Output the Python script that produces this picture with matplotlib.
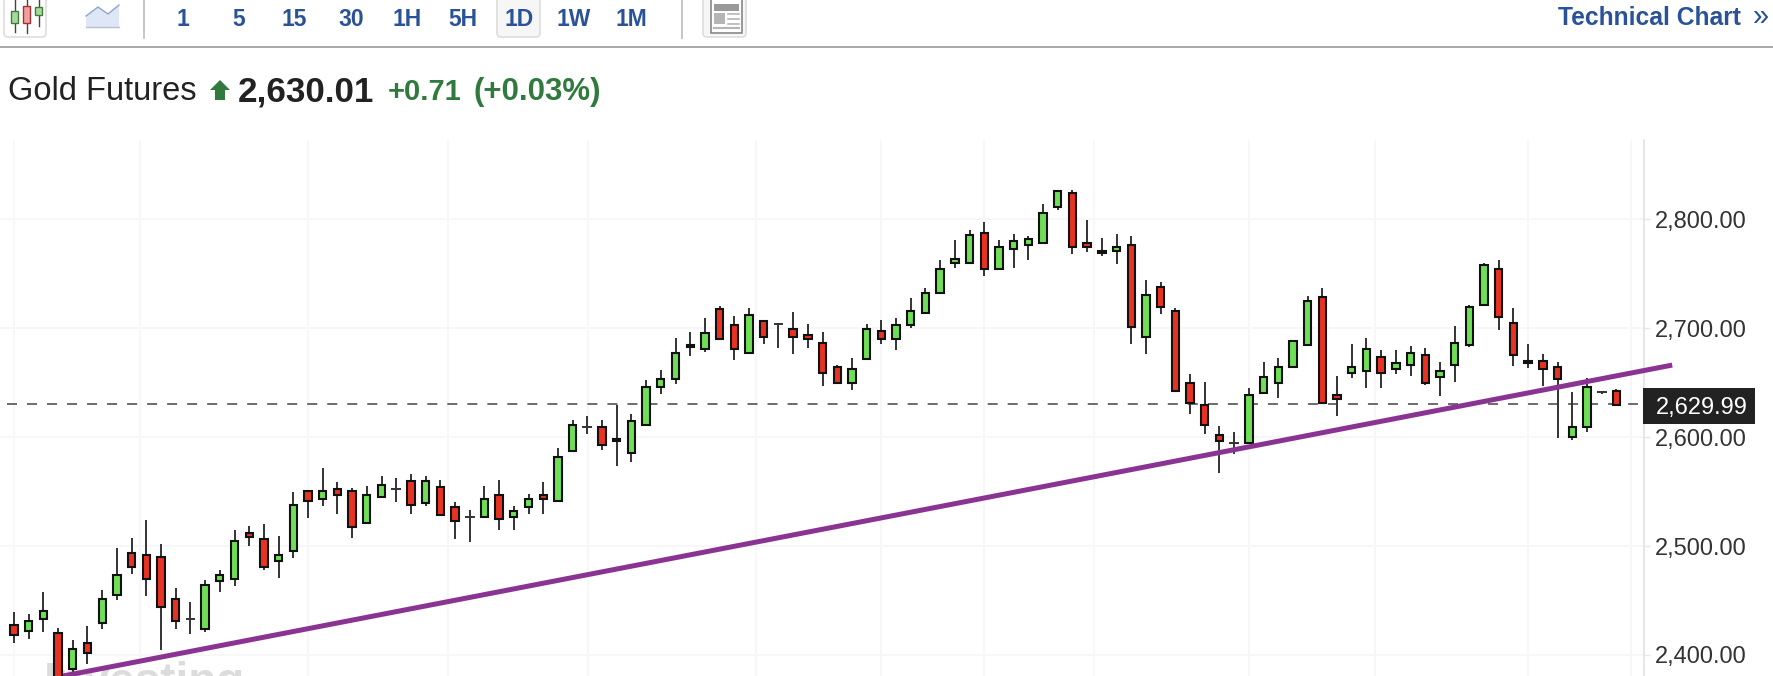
#!/usr/bin/env python3

import matplotlib
matplotlib.use('Agg')
import matplotlib.pyplot as plt
from matplotlib.patches import FancyBboxPatch, Polygon, Rectangle

W, H = 1774, 676
FONT = 'Liberation Sans'

GREEN = '#6fdf55'
RED = '#e83323'
BLUE = '#2a5298'
TEXT_GREEN = '#2f7a3c'

opens = [
    2427.5, 2422.3, 2433.0, 2419.9, 2387.2, 2411.0, 2429.4, 2454.7, 2493.9, 2492.1,
    2489.9, 2451.4, 2433.0, 2423.9, 2467.6, 2469.7, 2512.2, 2506.7, 2485.9, 2495.4,
    2550.5, 2543.1, 2552.6, 2550.8, 2520.8, 2545.0, 2552.6, 2559.9, 2539.5, 2554.4,
    2536.0, 2526.6, 2526.6, 2546.8, 2526.6, 2535.7, 2546.8, 2541.2, 2586.8, 2609.4,
    2609.4, 2598.4, 2585.0, 2610.7, 2645.5, 2652.9, 2684.4, 2680.4, 2717.7, 2703.0,
    2676.7, 2706.7, 2703.3, 2699.4, 2693.8, 2686.5, 2664.5, 2649.2, 2671.2, 2697.5,
    2689.6, 2702.5, 2713.5, 2731.9, 2759.4, 2759.4, 2787.5, 2753.9, 2772.2, 2775.9,
    2777.7, 2810.7, 2824.2, 2778.3, 2771.0, 2770.4, 2776.5, 2691.8, 2738.0, 2716.0,
    2649.9, 2629.7, 2602.2, 2594.5, 2594.2, 2640.1, 2649.6, 2664.0, 2684.1, 2728.8,
    2638.8, 2658.4, 2660.2, 2673.7, 2662.0, 2666.3, 2675.5, 2655.0, 2665.7, 2684.1,
    2720.8, 2754.4, 2704.9, 2670.0, 2670.0, 2664.5, 2599.7, 2609.1, 2640.9, 2642.5,
]
closes = [
    2418.4, 2431.2, 2440.7, 2377.0, 2405.8, 2401.8, 2451.7, 2473.7, 2480.7, 2469.7,
    2444.0, 2431.2, 2433.0, 2464.5, 2473.7, 2504.9, 2508.0, 2480.7, 2492.1, 2537.9,
    2541.3, 2550.8, 2546.5, 2517.4, 2547.1, 2556.3, 2552.6, 2537.6, 2559.9, 2528.4,
    2522.9, 2526.6, 2543.4, 2524.7, 2532.4, 2543.4, 2543.1, 2581.9, 2611.3, 2609.4,
    2592.6, 2596.0, 2615.0, 2646.1, 2653.5, 2677.3, 2682.5, 2695.7, 2689.6, 2680.4,
    2712.2, 2691.4, 2703.3, 2691.4, 2689.6, 2658.4, 2649.2, 2662.7, 2699.4, 2689.6,
    2703.1, 2716.0, 2732.5, 2754.5, 2763.7, 2785.7, 2753.9, 2774.7, 2780.2, 2782.0,
    2805.9, 2826.0, 2774.1, 2774.1, 2769.2, 2774.7, 2700.7, 2730.6, 2719.0, 2642.2,
    2630.9, 2610.8, 2596.1, 2594.5, 2638.9, 2655.4, 2664.6, 2688.4, 2725.1, 2630.9,
    2634.5, 2664.5, 2681.0, 2658.4, 2668.2, 2677.3, 2649.2, 2660.8, 2686.5, 2719.5,
    2758.1, 2709.8, 2674.9, 2668.2, 2662.4, 2653.2, 2609.4, 2646.1, 2640.9, 2629.3,
]
highs = [
    2439.2, 2437.3, 2457.5, 2424.5, 2413.5, 2426.3, 2459.3, 2497.9, 2507.0, 2523.6,
    2501.5, 2461.2, 2448.3, 2468.5, 2477.7, 2514.4, 2518.0, 2519.9, 2508.9, 2549.2,
    2550.5, 2571.3, 2558.4, 2552.9, 2554.7, 2563.9, 2562.1, 2565.8, 2563.9, 2560.3,
    2540.0, 2532.7, 2554.7, 2560.2, 2536.4, 2547.4, 2558.4, 2589.6, 2615.3, 2618.9,
    2615.3, 2629.3, 2620.8, 2652.0, 2661.1, 2690.5, 2696.0, 2708.8, 2719.8, 2710.7,
    2718.0, 2706.7, 2704.9, 2714.3, 2703.3, 2696.0, 2666.3, 2672.1, 2703.3, 2707.0,
    2708.9, 2727.3, 2736.4, 2762.1, 2780.5, 2789.6, 2797.0, 2780.5, 2786.0, 2784.1,
    2813.5, 2826.0, 2826.3, 2798.8, 2782.3, 2786.0, 2784.1, 2743.8, 2741.9, 2718.1,
    2657.5, 2650.2, 2609.8, 2604.3, 2644.7, 2668.5, 2672.2, 2688.4, 2729.1, 2736.4,
    2655.6, 2685.0, 2690.5, 2679.5, 2679.5, 2683.1, 2681.3, 2668.5, 2701.5, 2721.4,
    2759.9, 2762.0, 2718.0, 2685.0, 2675.8, 2668.5, 2640.9, 2653.8, 2642.5, 2644.3,
]
lows = [
    2410.7, 2414.4, 2421.4, 2370.0, 2381.7, 2392.1, 2423.6, 2450.8, 2474.6, 2454.4,
    2404.9, 2423.6, 2419.6, 2421.4, 2458.1, 2463.6, 2500.3, 2478.3, 2471.0, 2489.3,
    2526.0, 2537.0, 2529.7, 2507.7, 2520.8, 2544.7, 2540.7, 2529.7, 2537.0, 2528.4,
    2506.1, 2503.9, 2526.3, 2514.9, 2514.9, 2529.6, 2529.6, 2541.2, 2586.8, 2603.0,
    2588.3, 2573.7, 2577.3, 2610.7, 2639.7, 2648.9, 2674.6, 2678.3, 2689.6, 2670.9,
    2676.7, 2685.6, 2681.9, 2676.4, 2681.9, 2647.1, 2649.2, 2643.4, 2671.2, 2685.6,
    2680.2, 2700.4, 2713.5, 2731.9, 2755.4, 2759.4, 2748.1, 2753.9, 2755.4, 2762.7,
    2777.7, 2808.6, 2768.2, 2770.1, 2766.4, 2759.1, 2685.7, 2676.5, 2713.2, 2642.2,
    2621.5, 2603.1, 2566.6, 2584.8, 2594.2, 2640.1, 2636.1, 2664.0, 2684.1, 2630.9,
    2619.5, 2654.4, 2645.2, 2645.2, 2658.1, 2656.2, 2647.4, 2637.9, 2650.7, 2682.2,
    2720.8, 2698.4, 2665.4, 2663.6, 2647.1, 2599.4, 2597.5, 2604.9, 2639.4, 2629.3,
]

last_price = 2629.99
y_ticks = [2400, 2500, 2600, 2700, 2800]
date_grid = [0, 8.57, 20, 29.5, 39.05, 50.5, 59, 66, 73.5, 84, 92.55, 103, 110]
trend_x = [3.33, 112.8]
trend_y = [2380.7, 2666.0]
intervals = ['1', '5', '15', '30', '1H', '5H', '1D', '1W', '1M']
interval_x = [183, 239, 294, 351, 407, 463, 519, 574, 631]

fig = plt.figure(figsize=(W / 100, H / 100), dpi=100, facecolor='white')

# main chart, x is candle index and y is price
ax = fig.add_axes([0, 0, 1644 / W, (H - 140) / H])
ax.set_xlim(-0.952, 110.88)
ax.set_ylim(2380.73, 2872.5)

ax.text(2.0, 2363, 'Investing', fontsize=33, fontweight='bold', family=FONT,
        color='#dcdcdc', zorder=1, clip_on=True)

ax.set_xticks(date_grid)
ax.set_yticks(y_ticks)
ax.set_xticklabels([])
ax.set_yticklabels([f'{v:,.2f}' for v in y_ticks], fontsize=17, family=FONT, color='#333333')
ax.yaxis.tick_right()
ax.tick_params(axis='x', length=0)
ax.tick_params(axis='y', length=4.3, width=1, color='#e6e6ee', pad=3.5)
ax.grid(True, color='#f7f7f9', linewidth=1.3, zorder=0)
ax.set_axisbelow(True)
for name in ['top', 'left', 'bottom']:
    ax.spines[name].set_visible(False)
ax.spines['right'].set_color('#e2e2ea')
ax.spines['right'].set_linewidth(1.2)

ax.plot([-0.48, 110.5], [last_price, last_price], color='#444444', linewidth=1.1,
        dashes=(6.55, 6.55), zorder=2)

xs = list(range(len(opens)))
ax.vlines(xs, lows, highs, color='#333333', linewidth=1.4, zorder=3)
for i in xs:
    o, c = opens[i], closes[i]
    if o == c:
        ax.hlines(o, i - 0.33, i + 0.33, color='#333333', linewidth=1.4, zorder=3)
        continue
    ax.bar(i, abs(c - o), bottom=min(o, c), width=0.5, color=GREEN if c > o else RED,
           edgecolor='#111111', linewidth=1.5, zorder=4)

ax.plot(trend_x, trend_y, color='#8b3393', linewidth=3.6, solid_capstyle='butt',
        clip_on=False, zorder=5)

# page furniture around the chart, in pixels
ui = fig.add_axes([0, 0, 1, 1])
ui.set_xlim(0, W)
ui.set_ylim(H, 0)
ui.axis('off')
ui.patch.set_alpha(0)

ui.add_patch(Rectangle((0, 46), W, 2, color='#aaaaaa', linewidth=0))
for x in [144, 682]:
    ui.plot([x, x], [0, 38], color='#bbbbbb', linewidth=1.2)

# toolbar buttons
for x0, x1, fc in [(4, 46, 'white'), (497, 540, '#f6f6f6'), (703, 746, '#f6f6f6')]:
    ui.add_patch(FancyBboxPatch((x0, -10), x1 - x0, 47, boxstyle='round,pad=0,rounding_size=4',
                                fc=fc, ec='#dddddd', linewidth=1.2))

# candle icon
for x, low, top, bot, fc, ec in [(15, 32, 11, 23, '#a8d8a0', '#3f7f35'),
                                 (27, 33, 6, 23, '#f0a0a0', '#a83030'),
                                 (39, 26, 7, 15, '#a8d8a0', '#3f7f35')]:
    ui.plot([x, x], [0, low], color='#444444', linewidth=1.0)
    ui.add_patch(Rectangle((x - 3.5, top), 7, bot - top, fc=fc, ec=ec, linewidth=1.0, zorder=3))

# line icon
ui.add_patch(Polygon([(86, 16), (98, 7), (108, 14), (119, 5), (119, 27), (86, 27)],
                     fc='#dfe6f5', ec='none'))
ui.plot([86, 98, 108, 119], [16, 7, 14, 5], color='#8fa6cc', linewidth=1.0)
ui.plot([86, 119], [27, 27], color='#b8c0d0', linewidth=1.0)

# news icon
ui.add_patch(Rectangle((711, -2), 31, 35, fc='white', ec='#888888', linewidth=1.2))
ui.add_patch(Rectangle((714, 4), 25, 7, fc='#999999', ec='none'))
ui.add_patch(Rectangle((714, 13), 11, 11, fc='#b5b5b5', ec='none'))
for y in [14, 19, 24]:
    ui.plot([728, 739], [y, y], color='#b5b5b5', linewidth=1.2)
ui.plot([714, 739], [28, 28], color='#b5b5b5', linewidth=1.5)

for label, x in zip(intervals, interval_x):
    ui.text(x, 19, label, ha='center', va='center', fontsize=16.5, family=FONT,
            fontweight='bold', color=BLUE)

ui.text(1558, 18, 'Technical Chart', ha='left', va='center', fontsize=17.7, family=FONT,
        fontweight='bold', color=BLUE)
ui.text(1761, 17, '»', ha='center', va='center', fontsize=21, family=FONT, color=BLUE)

# quote line
ui.text(8, 92, 'Gold Futures', ha='left', va='center', fontsize=23.5, family=FONT, color='#222222')
ui.add_patch(Polygon([(220, 80), (230, 90), (225, 90), (225, 100), (215, 100), (215, 90), (210, 90)],
                     fc=TEXT_GREEN, ec='none'))
ui.text(238, 92, '2,630.01', ha='left', va='center', fontsize=25.2, family=FONT,
        fontweight='bold', color='#222222')
ui.text(388, 92, '+0.71', ha='left', va='center', fontsize=21, family=FONT,
        fontweight='bold', color=TEXT_GREEN)
ui.text(474, 92, '(+0.03%)', ha='left', va='center', fontsize=22.5, family=FONT,
        fontweight='bold', color=TEXT_GREEN)

# last price tag
ui.add_patch(Rectangle((1643, 388), 112, 36, fc='#222222', ec='none', zorder=6))
ui.text(1656, 408, f'{last_price:,.2f}', ha='left', va='center', fontsize=17, family=FONT,
        color='white', zorder=7)

fig.savefig('out.png', dpi=100)
